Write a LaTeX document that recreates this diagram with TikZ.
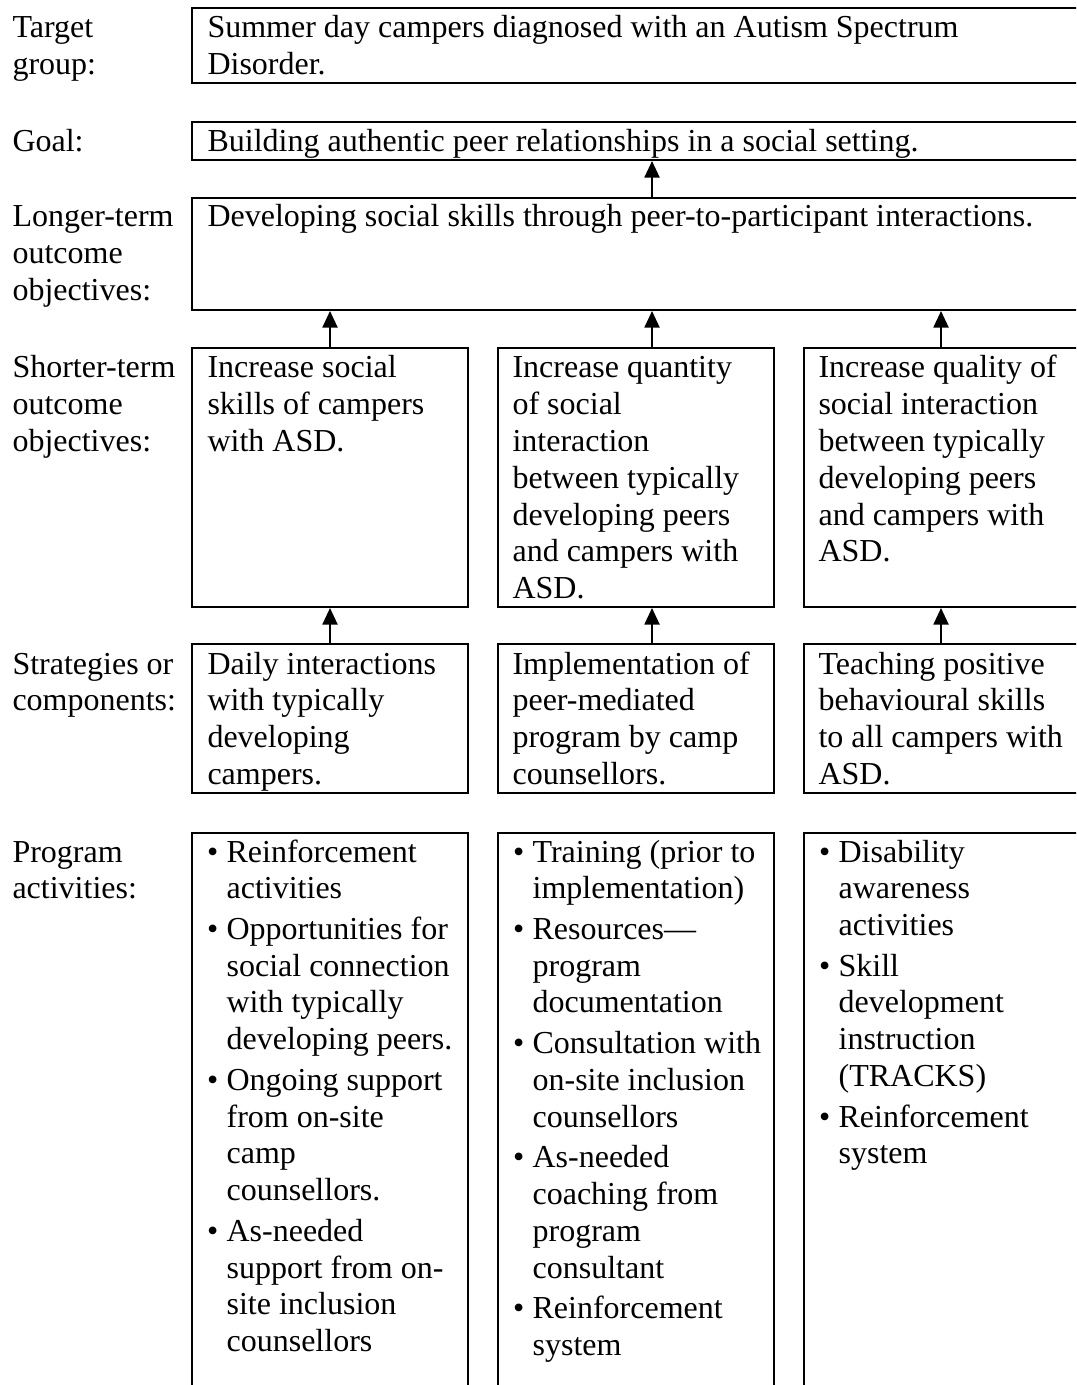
\documentclass[tikz,border=0pt]{standalone}
\usepackage{fontspec}
\setmainfont{Liberation Serif}
\usetikzlibrary{arrows.meta}
\newcommand\tx[1]{\parbox[t]{420pt}{\fontsize{12}{13.8}\selectfont\raggedright #1}}
\newcommand\bu{\makebox[7.9pt][l]{\hspace{0.6pt}\textbullet}}
\newcommand\ci{\hspace*{7.9pt}}
\newcommand\gap{\\[1.4pt]}
\tikzset{
  box/.style={draw, line width=0.75pt, rectangle, inner sep=0pt, anchor=north west},
  lbl/.style={anchor=base west, inner sep=0pt},
  arr/.style={line width=0.8pt, -{Triangle[length=6.2pt,width=5.6pt]}}
}
\begin{document}
\begin{tikzpicture}[x=0.375pt,y=-0.375pt]
\useasboundingbox (0,0) rectangle (1076,1385);
\clip (0,0) rectangle (1076,1385);
% boxes
\node[box, minimum width=920*0.375pt, minimum height=75*0.375pt] (tg) at (191,7) {};
\node[box, minimum width=920*0.375pt, minimum height=38*0.375pt] (goal) at (191,121) {};
\node[box, minimum width=920*0.375pt, minimum height=112*0.375pt] (lt) at (191,197) {};
\node[box, minimum width=276*0.375pt, minimum height=259*0.375pt] (s1) at (191,347) {};
\node[box, minimum width=276*0.375pt, minimum height=259*0.375pt] (s2) at (497,347) {};
\node[box, minimum width=274*0.375pt, minimum height=259*0.375pt] (s3) at (803,347) {};
\node[box, minimum width=276*0.375pt, minimum height=149*0.375pt] (c1) at (191,643) {};
\node[box, minimum width=276*0.375pt, minimum height=149*0.375pt] (c2) at (497,643) {};
\node[box, minimum width=274*0.375pt, minimum height=149*0.375pt] (c3) at (803,643) {};
\node[box, minimum width=276*0.375pt, minimum height=600*0.375pt] (p1) at (191,832) {};
\node[box, minimum width=276*0.375pt, minimum height=600*0.375pt] (p2) at (497,832) {};
\node[box, minimum width=276*0.375pt, minimum height=600*0.375pt] (p3) at (803,832) {};
% left labels
\node[lbl] (l1) at (12,38) {\tx{Target\\group:}};
\node[lbl] (l2) at (12,152) {\tx{Goal:}};
\node[lbl] (l3) at (12,227) {\tx{Longer-term\\outcome\\objectives:}};
\node[lbl] (l4) at (12,378) {\tx{Shorter-term\\outcome\\objectives:}};
\node[lbl] (l5) at (12,674) {\tx{Strategies or\\components:}};
\node[lbl] (l6) at (12,862) {\tx{Program\\activities:}};
% box texts
\node[lbl] (t1) at (207,38) {\tx{Summer day campers diagnosed with an Autism Spectrum\\Disorder.}};
\node[lbl] (t2) at (207,152) {\tx{Building authentic peer relationships in a social setting.}};
\node[lbl] (t3) at (207,227) {\tx{Developing social skills through peer-to-participant interactions.}};
\node[lbl] (t4) at (207,378) {\tx{Increase social\\skills of campers\\with ASD.}};
\node[lbl] (t5) at (512,378) {\tx{Increase quantity\\of social\\interaction\\between typically\\developing peers\\and campers with\\ASD.}};
\node[lbl] (t6) at (818,378) {\tx{Increase quality of\\social interaction\\between typically\\developing peers\\and campers with\\ASD.}};
\node[lbl] (t7) at (207,674) {\tx{Daily interactions\\with typically\\developing\\campers.}};
\node[lbl] (t8) at (512,674) {\tx{Implementation of\\peer-mediated\\program by camp\\counsellors.}};
\node[lbl] (t9) at (818,674) {\tx{Teaching positive\\behavioural skills\\to all campers with\\ASD.}};
\node[lbl] (t10) at (205,862) {\tx{\bu Reinforcement\\\ci activities\gap
\bu Opportunities for\\\ci social connection\\\ci with typically\\\ci developing peers.\gap
\bu Ongoing support\\\ci from on-site\\\ci camp\\\ci counsellors.\gap
\bu As-needed\\\ci support from on-\\\ci site inclusion\\\ci counsellors}};
\node[lbl] (t11) at (511,862) {\tx{\bu Training (prior to\\\ci implementation)\gap
\bu Resources---\\\ci program\\\ci documentation\gap
\bu Consultation with\\\ci on-site inclusion\\\ci counsellors\gap
\bu As-needed\\\ci coaching from\\\ci program\\\ci consultant\gap
\bu Reinforcement\\\ci system}};
\node[lbl] (t12) at (817,862) {\tx{\bu Disability\\\ci awareness\\\ci activities\gap
\bu Skill\\\ci development\\\ci instruction\\\ci (TRACKS)\gap
\bu Reinforcement\\\ci system}};
% arrows
\draw[arr] (lt.north) -- (goal.south);
\draw[arr] (s1.north) -- (s1.north |- lt.south);
\draw[arr] (s2.north -| lt.north) -- (lt.south);
\draw[arr] (s3.north) -- (s3.north |- lt.south);
\draw[arr] (c1.north) -- (s1.south);
\draw[arr] (c2.north -| lt.north) -- (s2.south -| lt.north);
\draw[arr] (c3.north) -- (s3.south);
\end{tikzpicture}
\end{document}
